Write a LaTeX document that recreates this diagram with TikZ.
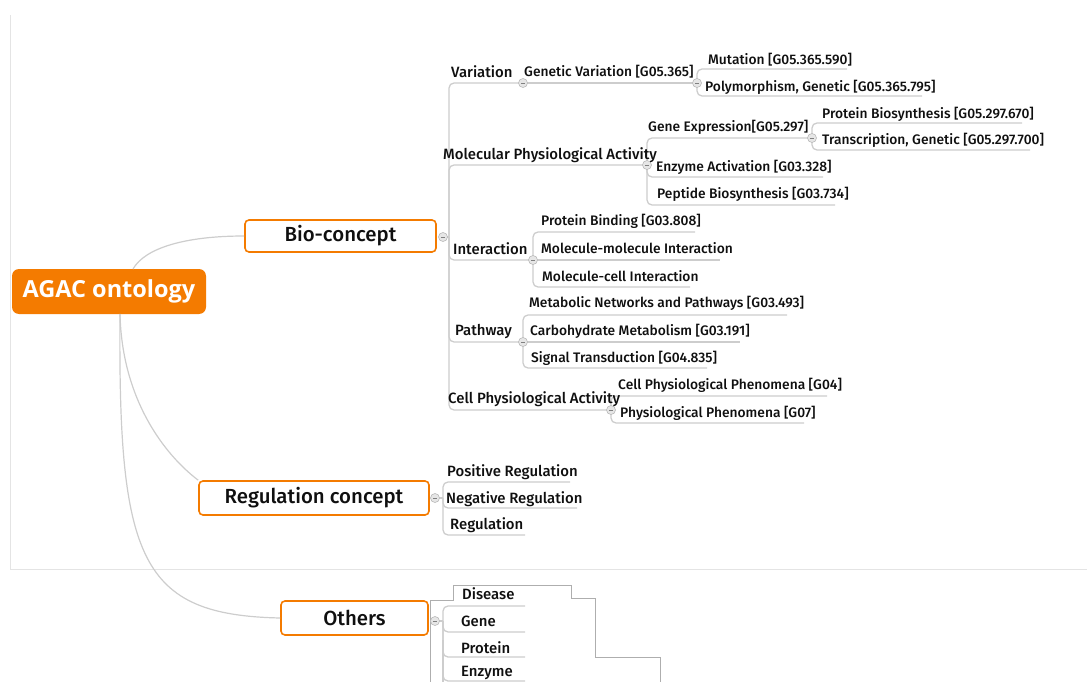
\documentclass[tikz,border=0pt]{standalone}
\usepackage{fontspec}
\setmainfont{Open Sans}
\newfontfamily\med{Fira Sans Medium}
\definecolor{agacorange}{RGB}{244,123,0}
\definecolor{linegray}{RGB}{205,205,205}
\definecolor{framegray}{RGB}{228,228,228}
\definecolor{btnfill}{RGB}{230,230,230}
\definecolor{btnline}{RGB}{185,185,185}
\definecolor{txt}{RGB}{15,15,15}
\begin{document}
\begin{tikzpicture}[x=1pt,y=-1pt,
  lbl/.style={anchor=base west,inner sep=0pt,text=txt,font=\med\fontsize{13.8}{16}\selectfont},
  lbltwo/.style={anchor=base west,inner sep=0pt,text=txt,font=\med\fontsize{14.9}{17}\selectfont},
  topic/.style={draw=agacorange,line width=1.6pt,fill=white,rounded corners=4pt,inner sep=0pt,text=txt,font=\med\fontsize{20.4}{24}\selectfont},
  rootbox/.style={fill=agacorange,rounded corners=7pt,inner sep=0pt,text=white,font=\bfseries\fontsize{23.5}{28}\selectfont},
  br/.style={draw=linegray,line width=1.3pt,rounded corners=5pt},
  curve/.style={draw=linegray,line width=1.2pt},
  frame/.style={draw=framegray,line width=1pt},
  artifact/.style={draw=linegray!85!black,line width=0.7pt},
  btn/.style={circle,draw=btnline,fill=btnfill,line width=0.6pt,minimum size=9pt,inner sep=0pt,
    path picture={\draw[gray,line width=0.8pt] ([xshift=-2.2pt]path picture bounding box.center) -- ([xshift=2.2pt]path picture bounding box.center);}}
]
\useasboundingbox (0,0) rectangle (1087,682);
% screenshot frame
\draw[frame] (10.5,15) -- (10.5,569) -- (1087,569);

% main topics
\node[rootbox,minimum width=194pt,minimum height=45pt] (root) at (109,291.5) {AGAC ontology};
\node[topic,minimum width=191pt,minimum height=32pt] (bio) at (340.5,236) {Bio-concept};
\node[topic,minimum width=230pt,minimum height=34pt] (reg) at (314,498) {Regulation concept};
\node[topic,minimum width=147pt,minimum height=34pt] (oth) at (354.5,618) {Others};

% root connectors
\coordinate (rtop) at (133,269);
\coordinate (rbot) at (120,314);
\draw[curve] (rtop) .. controls (145,248) and (185,236) .. (bio.west);
\draw[curve] (rbot) .. controls (122,400) and (165,455) .. (reg.north west);
\draw[curve] (rbot) .. controls (118,560) and (140,615) .. (oth.west);

% buttons (positions)
\coordinate (pbio) at (443,237);
\coordinate (pvar) at (523,83);
\coordinate (pgv) at (697,83);
\coordinate (pmpa) at (647,165);
\coordinate (pge) at (812,138);
\coordinate (pint) at (533,260);
\coordinate (ppath) at (523,342);
\coordinate (pcpa) at (611,410);
\coordinate (preg) at (435,498);
\coordinate (poth) at (435,621);

% Bio-concept branches
\draw[br] (pbio) -- (449,237);
\draw[br] (449,237) |- (pvar);
\draw[br] (449,237) |- (pmpa);
\draw[br] (449,237) |- (pint);
\draw[br] (449,237) |- (ppath);
\draw[br] (449,237) |- (pcpa);
% Variation
\draw[br] (pvar) -- (pgv);
\draw[br] (pgv) |- (847,69);
\draw[br] (pgv) |- (922,96);
% Molecular Physiological Activity
\draw[br] (pmpa) |- (pge);
\draw[br] (pmpa) |- (823,177);
\draw[br] (pmpa) |- (835,205);
\draw[br] (pge) |- (1022,123);
\draw[br] (pge) |- (1030,150);
% Interaction
\draw[br] (pint) |- (695,232);
\draw[br] (pint) -- (720,260);
\draw[br] (pint) |- (690,287);
% Pathway
\draw[br] (ppath) |- (787,315);
\draw[br] (ppath) -- (740,342);
\draw[br] (ppath) |- (707,368);
% Cell Physiological Activity
\draw[br] (pcpa) |- (827,396);
\draw[br] (pcpa) |- (804,423);
% Regulation concept
\draw[br] (preg) -- (443,498);
\draw[br] (443,498) |- (570,482);
\draw[br] (443,498) |- (577,508);
\draw[br] (443,498) |- (525,535);
% Others
\draw[br] (poth) -- (443,621);
\draw[br] (443,621) |- (525,606);
\draw[br] (443,621) |- (525,632);
\draw[br] (443,621) |- (525,657);
\draw[br] (443,621) |- (525,681);
\draw[br] (443,640) -- (443,683);
% pasted-screenshot edges
\draw[artifact] (430,682) -- (430,600) -- (453,600) -- (453,585) -- (571,585) -- (571,598) -- (595,598) -- (595,657) -- (660,657) -- (660,682);

% buttons
\foreach \p in {pbio,pvar,pgv,pmpa,pge,pint,ppath,pcpa,preg,poth}
  \node[btn] (b\p) at (\p) {};

% labels
\node[lbltwo] (var) at (451,77.2) {Variation};
\node[lbl] (gv) at (524,76.8) {Genetic Variation [G05.365]};
\node[lbl] (mut) at (708,64.8) {Mutation [G05.365.590]};
\node[lbl] (poly) at (705,91.8) {Polymorphism, Genetic [G05.365.795]};
\node[lbltwo] (mpa) at (443,159.2) {Molecular Physiological Activity};
\node[lbl] (ge) at (648,131.8) {Gene Expression[G05.297]};
\node[lbl] (pb) at (822,118.8) {Protein Biosynthesis [G05.297.670]};
\node[lbl] (tg) at (822,144.8) {Transcription, Genetic [G05.297.700]};
\node[lbl] (ea) at (656,171.8) {Enzyme Activation [G03.328]};
\node[lbl] (pep) at (657,198.8) {Peptide Biosynthesis [G03.734]};
\node[lbl] (pbind) at (541,225.8) {Protein Binding [G03.808]};
\node[lbltwo] (inter) at (453,254.2) {Interaction};
\node[lbl] (mm) at (541,253.8) {Molecule-molecule Interaction};
\node[lbl] (mc) at (542,281.8) {Molecule-cell Interaction};
\node[lbl] (mnp) at (529,307.8) {Metabolic Networks and Pathways [G03.493]};
\node[lbltwo] (path) at (455,335.2) {Pathway};
\node[lbl] (carb) at (530,335.8) {Carbohydrate Metabolism [G03.191]};
\node[lbl] (sig) at (531,362.8) {Signal Transduction [G04.835]};
\node[lbltwo] (cpa) at (448,403.2) {Cell Physiological Activity};
\node[lbl] (cpp) at (618,389.8) {Cell Physiological Phenomena [G04]};
\node[lbl] (pp) at (620,417.8) {Physiological Phenomena [G07]};
\node[lbltwo] (pos) at (447,476.2) {Positive Regulation};
\node[lbltwo] (neg) at (446,503.2) {Negative Regulation};
\node[lbltwo] (regl) at (450,529.2) {Regulation};
\node[lbltwo] (dis) at (462,599.2) {Disease};
\node[lbltwo] (gene) at (461,626.2) {Gene};
\node[lbltwo] (prot) at (461,653.2) {Protein};
\node[lbltwo] (enz) at (461,676.2) {Enzyme};
\end{tikzpicture}
\end{document}
